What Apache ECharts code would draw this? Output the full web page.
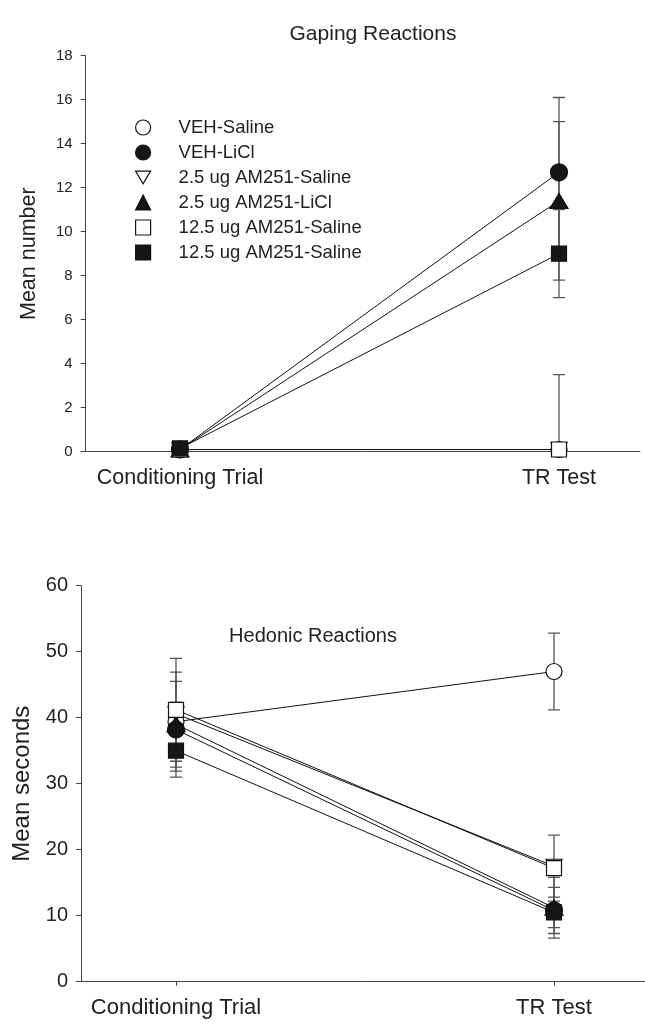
<!DOCTYPE html>
<html>
<head>
<meta charset="utf-8">
<script src="https://cdn.jsdelivr.net/npm/echarts@6/dist/echarts.min.js"></script>
<style>html,body{margin:0;padding:0;background:#fff}#c{width:645px;height:1024px}</style>
</head>
<body>
<div id="c"></div>
<script>
// ---- data ----
const categories = ['Conditioning Trial', 'TR Test'];
const seriesNames = ['VEH-Saline', 'VEH-LiCl', '2.5 ug AM251-Saline', '2.5 ug AM251-LiCl', '12.5 ug AM251-Saline', '12.5 ug AM251-Saline '];
const gapingTicks = [0, 2, 4, 6, 8, 10, 12, 14, 16, 18];
const hedonicTicks = [0, 10, 20, 30, 40, 50, 60];

// Gaping reactions (mean number) : [Conditioning, TR Test]
const gapVehSal = [0.1, 0.1];        const gapVehSalErr = [0, 0];
const gapVehLiCl = [0.1, 12.7];      const gapVehLiClErr = [0, 3.4];
const gap25Sal = [0.1, 0.1];         const gap25SalErr = [0, 0];
const gap25LiCl = [0.1, 11.4];       const gap25LiClErr = [0, 3.6];
const gap125Sal = [0.1, 0.1];        const gap125SalErr = [0, 3.4];
const gap125B = [0.15, 9.0];         const gap125BErr = [0, 2.0];

// Hedonic reactions (mean seconds)
const hedVehSal = [39.4, 47.0];      const hedVehSalErr = [7.5, 5.8];
const hedVehLiCl = [38.2, 10.8];     const hedVehLiClErr = [4.0, 3.5];
const hed25Sal = [40.6, 17.5];       const hed25SalErr = [1.7, 0.8];
const hed25LiCl = [39.0, 11.2];      const hed25LiClErr = [6.5, 4.6];
const hed125Sal = [41.2, 17.2];      const hed125SalErr = [7.8, 5.0];
const hed125B = [35.0, 10.5];        const hed125BErr = [4.0, 2.3];

const gapMeans = [gapVehSal, gapVehLiCl, gap25Sal, gap25LiCl, gap125Sal, gap125B];
const gapErrs = [gapVehSalErr, gapVehLiClErr, gap25SalErr, gap25LiClErr, gap125SalErr, gap125BErr];
const hedMeans = [hedVehSal, hedVehLiCl, hed25Sal, hed25LiCl, hed125Sal, hed125B];
const hedErrs = [hedVehSalErr, hedVehLiClErr, hed25SalErr, hed25LiClErr, hed125SalErr, hed125BErr];

// ---- styles ----
const FONT = "'Liberation Sans', Arial, sans-serif";
const downTri = 'path://M0,0L20,0L10,17Z';
const markers = [
  {symbol: 'circle', size: 16, fill: '#fff'},
  {symbol: 'circle', size: 17, fill: '#161616'},
  {symbol: downTri, size: [16, 14], fill: '#fff'},
  {symbol: 'triangle', size: [18, 15], fill: '#161616'},
  {symbol: 'rect', size: 15, fill: '#fff'},
  {symbol: 'rect', size: 15, fill: '#161616'}
];

function errRender(params, api) {
  const x = api.value(0), y = api.value(1), e = api.value(2);
  if (!e) return null;
  const t = api.coord([x, y + e]), b = api.coord([x, y - e]);
  const hw = 6;
  const st = {stroke: '#555', lineWidth: 1.3};
  return {type: 'group', children: [
    {type: 'line', shape: {x1: t[0], y1: t[1], x2: b[0], y2: b[1]}, style: st},
    {type: 'line', shape: {x1: t[0] - hw, y1: t[1], x2: t[0] + hw, y2: t[1]}, style: st},
    {type: 'line', shape: {x1: b[0] - hw, y1: b[1], x2: b[0] + hw, y2: b[1]}, style: st}
  ]};
}

const series = [];
function addChart(means, errs, idx) {
  means.forEach((m, i) => {
    series.push({
      type: 'custom', xAxisIndex: idx, yAxisIndex: idx, z: 2, clip: true,
      renderItem: errRender, silent: true,
      data: m.map((v, j) => [j, v, errs[i][j]])
    });
  });
  means.forEach((m, i) => {
    const mk = markers[i];
    series.push({
      type: 'line', name: seriesNames[i], xAxisIndex: idx, yAxisIndex: idx, z: 3,
      data: m.map((v, j) => [j, v]),
      symbol: mk.symbol, symbolSize: mk.size, showAllSymbol: true,
      lineStyle: {color: '#111', width: 1},
      itemStyle: {color: mk.fill, borderColor: '#111', borderWidth: 1.2, opacity: 1},
      emphasis: {disabled: true}, animation: false
    });
  });
}
addChart(gapMeans, gapErrs, 0);
addChart(hedMeans, hedErrs, 1);

function xAxis(idx, min, max, fs) {
  return {
    type: 'value', gridIndex: idx, min: min, max: max,
    axisLine: {show: true, onZero: false, lineStyle: {color: '#444', width: 1}},
    axisTick: {show: true, customValues: [0, 1], length: 4, lineStyle: {color: '#444'}},
    axisLabel: {customValues: [0, 1], formatter: v => categories[Math.round(v)] || '',
      fontFamily: FONT, fontSize: fs, color: '#222', margin: 15},
    splitLine: {show: false}
  };
}
function yAxis(idx, ticks, name, fs, nfs, gap, margin) {
  return {
    type: 'value', gridIndex: idx, min: ticks[0], max: ticks[ticks.length - 1],
    interval: ticks[1] - ticks[0],
    name: name, nameLocation: 'middle', nameGap: gap, nameRotate: 90,
    nameTextStyle: {fontFamily: FONT, fontSize: nfs, color: '#222'},
    axisLine: {show: true, onZero: false, lineStyle: {color: '#444', width: 1}},
    axisTick: {show: true, length: 5, lineStyle: {color: '#444'}},
    axisLabel: {fontFamily: FONT, fontSize: fs, color: '#222', margin: margin},
    splitLine: {show: false}
  };
}

const legendData = seriesNames.map((n, i) => ({
  name: n,
  icon: markers[i].symbol,
  itemStyle: {color: markers[i].fill, borderColor: '#111', borderWidth: 1.2}
}));

const option = {
  animation: false,
  backgroundColor: '#fff',
  title: [
    {text: 'Gaping Reactions', left: 368, top: 19, textAlign: 'center',
      textStyle: {fontFamily: FONT, fontSize: 21, fontWeight: 'normal', color: '#222'}},
    {text: 'Hedonic Reactions', left: 308, top: 621, textAlign: 'center',
      textStyle: {fontFamily: FONT, fontSize: 20, fontWeight: 'normal', color: '#222'}}
  ],
  legend: {
    data: legendData, orient: 'vertical', left: 130, top: 113,
    itemWidth: 15, itemHeight: 15, itemGap: 6,
    selectedMode: false,
    textStyle: {fontFamily: FONT, fontSize: 18.5, color: '#222', padding: [0, 0, 0, 23]},
    formatter: n => n.trim()
  },
  grid: [
    {left: 85.7, top: 55.7, width: 554.3, height: 396},
    {left: 81, top: 585.7, width: 564, height: 396}
  ],
  xAxis: [xAxis(0, -0.2488, 1.2137, 21.5), xAxis(1, -0.2513, 1.2407, 22)],
  yAxis: [yAxis(0, gapingTicks, 'Mean number', 15, 21.5, 45.5, 13),
          yAxis(1, hedonicTicks, 'Mean seconds', 20, 24, 46.5, 13)],
  series: series
};

const chart = echarts.init(document.getElementById('c'), null, {renderer: 'canvas'});
chart.setOption(option);
</script>
</body>
</html>
